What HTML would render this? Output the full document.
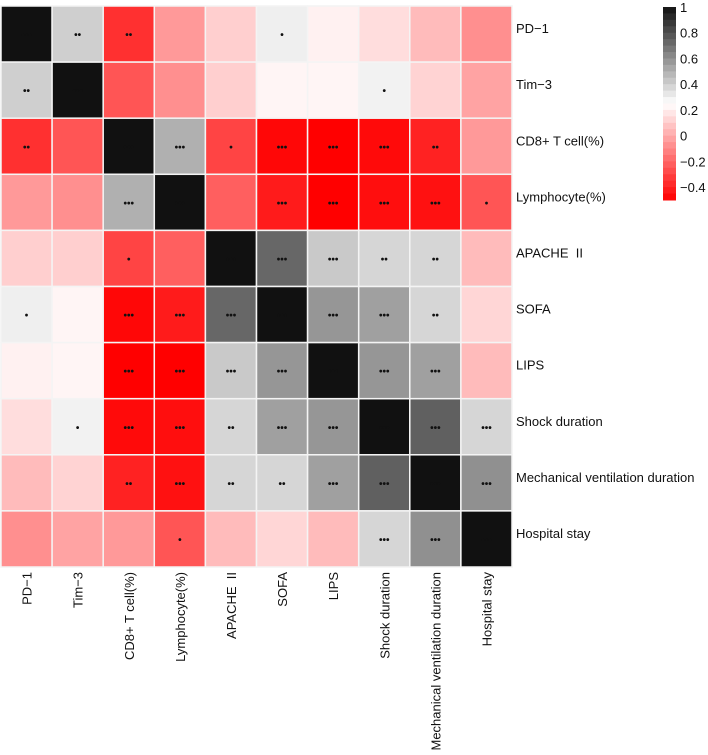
<!DOCTYPE html>
<html><head><meta charset="utf-8">
<style>
html,body{margin:0;padding:0;background:#fff;}
svg{display:block;font-family:"Liberation Sans",Arial,sans-serif;}
</style></head>
<body>
<svg id="chart" width="708" height="755" viewBox="0 0 708 755" xmlns="http://www.w3.org/2000/svg"></svg>
<script>
const labels = ["PD\u22121","Tim\u22123","CD8+ T cell(%)","Lymphocyte(%)","APACHE\u00a0\u00a0II","SOFA","LIPS","Shock duration","Mechanical ventilation duration","Hospital stay"];
const rowPD1 =   [1, 0.40, -0.36, -0.05, 0.11, 0.30, 0.21, 0.15, 0.05, -0.08];
const rowTim3 =  [0.40, 1, -0.25, -0.08, 0.11, 0.22, 0.22, 0.29, 0.12, -0.02];
const rowCD8 =   [-0.36, -0.25, 1, 0.50, -0.30, -0.48, -0.50, -0.47, -0.40, -0.05];
const rowLymph = [-0.05, -0.08, 0.50, 1, -0.22, -0.42, -0.50, -0.46, -0.45, -0.25];
const rowApache =[0.11, 0.11, -0.30, -0.22, 1, 0.73, 0.42, 0.38, 0.38, 0.05];
const rowSofa =  [0.30, 0.22, -0.48, -0.42, 0.73, 1, 0.58, 0.55, 0.38, 0.13];
const rowLips =  [0.21, 0.22, -0.50, -0.50, 0.42, 0.58, 1, 0.58, 0.55, 0.05];
const rowShock = [0.15, 0.29, -0.47, -0.46, 0.38, 0.55, 0.58, 1, 0.75, 0.38];
const rowMech =  [0.05, 0.12, -0.40, -0.45, 0.38, 0.38, 0.55, 0.75, 1, 0.60];
const rowHosp =  [-0.08, -0.02, -0.05, -0.25, 0.05, 0.13, 0.05, 0.38, 0.60, 1];
const values = [rowPD1,rowTim3,rowCD8,rowLymph,rowApache,rowSofa,rowLips,rowShock,rowMech,rowHosp];
const stars = [
 ["***","**","**","","","*","","","",""],
 ["**","***","","","","","","*","",""],
 ["**","","***","***","*","***","***","***","**",""],
 ["","","***","***","","***","***","***","***","*"],
 ["","","*","","***","***","***","**","**",""],
 ["*","","***","***","***","***","***","***","**",""],
 ["","","***","***","***","***","***","***","***",""],
 ["","*","***","***","**","***","***","***","***","***"],
 ["","","**","***","**","**","***","***","***","***"],
 ["","","","*","","","","***","***","***"]
];
const cbTicks = [1,0.8,0.6,0.4,0.2,0,-0.2,-0.4];
const vMin=-0.5, vMax=1, vWhite=0.25;

const NS="http://www.w3.org/2000/svg";
const svg=document.getElementById('chart');
const gx0=1, gy0=6, cw=51.1, ch=56.1;
function xs(i){return gx0+i*cw;}
function ys(j){return gy0+j*ch;}
function color(v){
  if(v<vWhite){const t=Math.max(0,(v-vMin)/(vWhite-vMin));const g=Math.round(255*t);return `rgb(255,${g},${g})`;}
  const t=Math.min(1,(v-vWhite)/(vMax-vWhite));const g=Math.round(255-(255-17)*t);return `rgb(${g},${g},${g})`;
}
function mk(tag,attrs){const e=document.createElementNS(NS,tag);for(const k in attrs)e.setAttribute(k,attrs[k]);svg.appendChild(e);return e;}

for(let r=0;r<10;r++){for(let c=0;c<10;c++){
  const rect=mk('rect',{x:xs(c),y:ys(r),width:cw,height:ch,fill:color(values[r][c]),stroke:'#f4f4f4','stroke-width':1.5});
  
  
  if(stars[r][c]){
    const t=mk('text',{x:xs(c)+cw/2,y:ys(r)+ch/2+4,'text-anchor':'middle','font-size':10,'font-weight':'bold',fill:'#111','letter-spacing':'0'});
    t.textContent=stars[r][c].replace(/\*/g,'\u2022');
    
    
  }
}}
for(let i=0;i<10;i++){
  const t=mk('text',{x:516,y:ys(i)+ch/2-1,'font-size':13,fill:'#111'});
  t.textContent=labels[i];
  
  
  const cx=xs(i)+cw/2+5;
  const b=mk('text',{x:0,y:0,'font-size':13,fill:'#111','text-anchor':'end',transform:`translate(${cx},572) rotate(-90)`});
  b.textContent=labels[i];
  
  
}
// colorbar
const cbx=663, cbw=13, cbTop=7, cbBot=200;
function cy(v){return cbTop+(vMax-v)/(vMax-vMin)*(cbBot-cbTop);}
const steps=30;
for(let k=0;k<steps;k++){
  const v1=vMax-k*(vMax-vMin)/steps, v2=vMax-(k+1)*(vMax-vMin)/steps;
  const r=mk('rect',{x:cbx,y:cy(v1),width:cbw,height:cy(v2)-cy(v1)+0.5,fill:color((v1+v2)/2)});
  
  
}
cbTicks.forEach(v=>{
  const t=mk('text',{x:680,y:cy(v)+5,'font-size':13,fill:'#111'});
  t.textContent=(v<0?'\u2212'+Math.abs(v):String(v));
  
  
});
</script>
</body></html>
